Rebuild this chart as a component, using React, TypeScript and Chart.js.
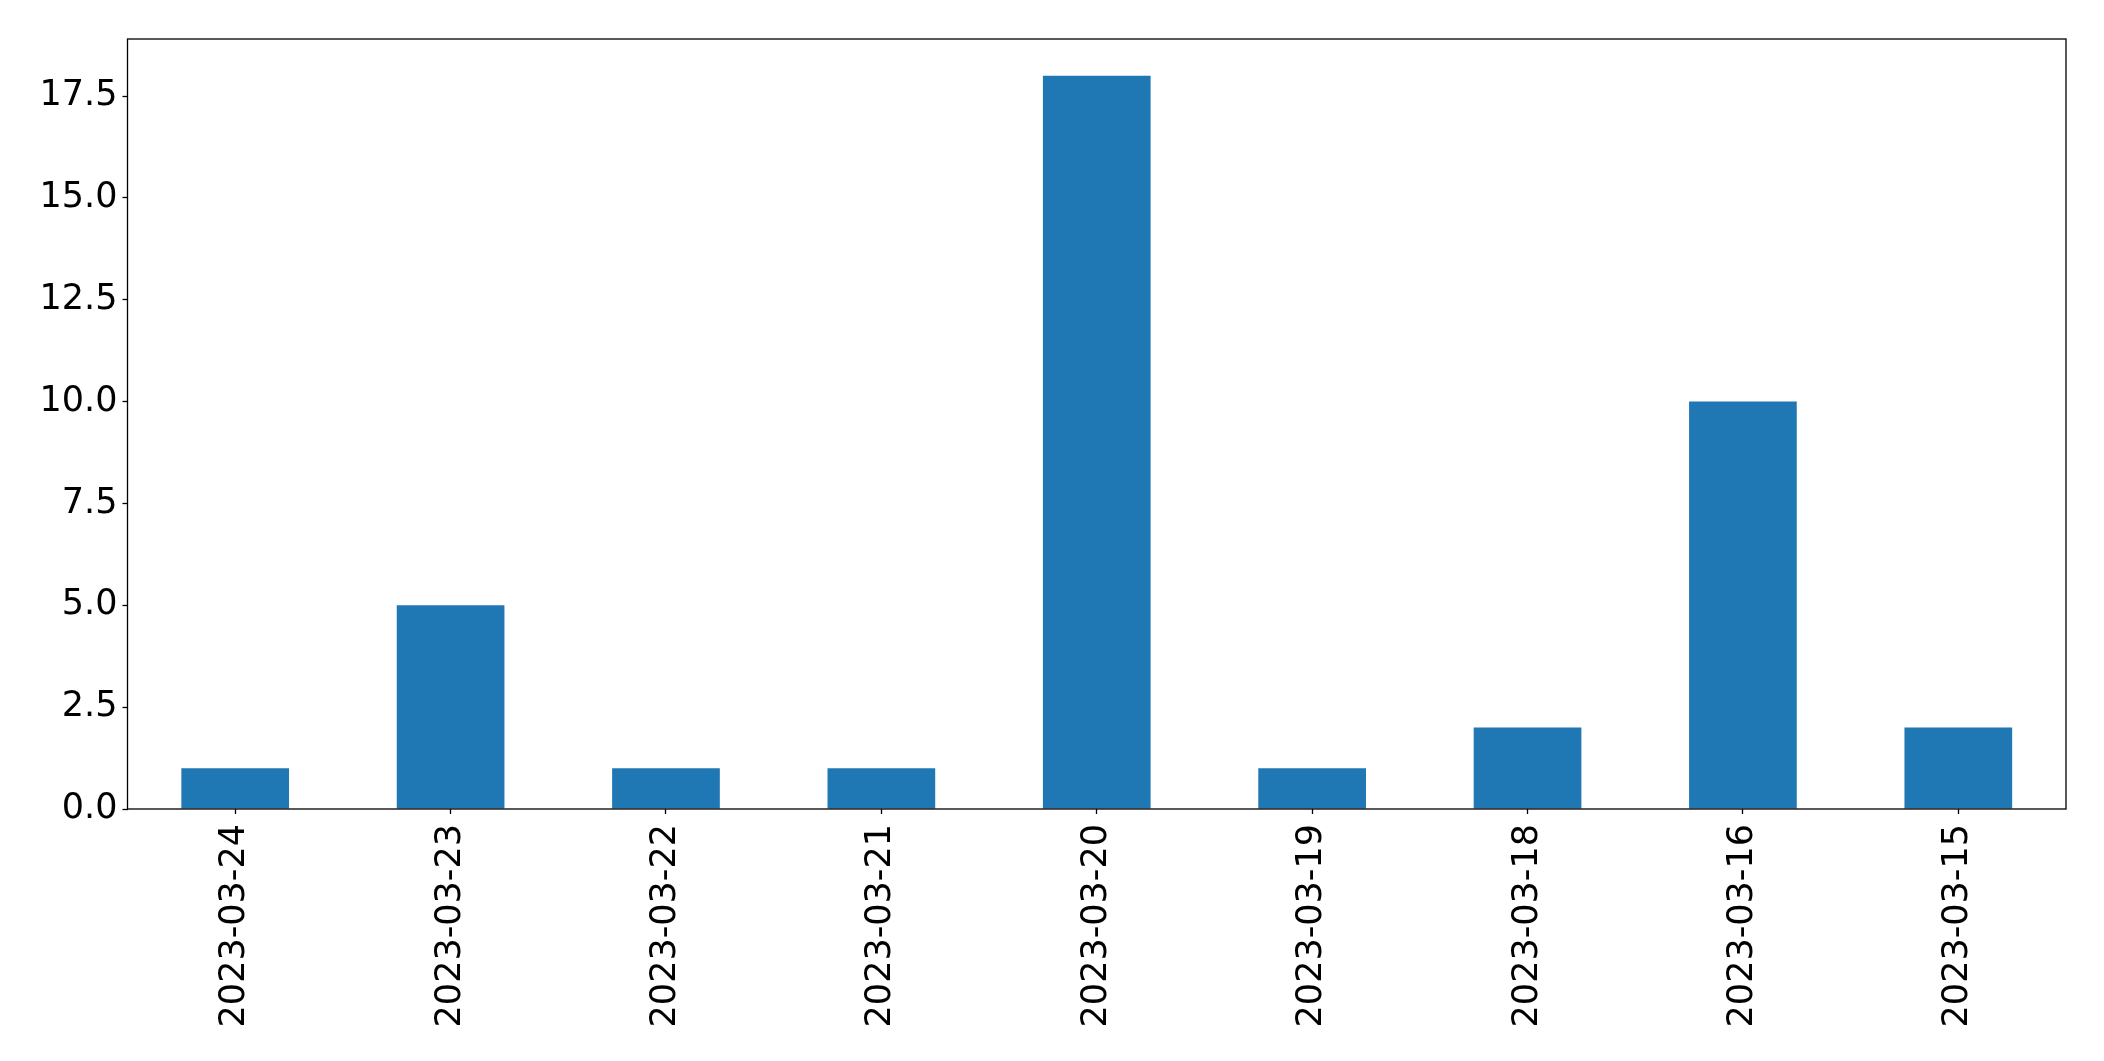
import React, { useEffect, useRef } from "react";
import { Chart, registerables } from "chart.js";

Chart.register(...registerables);

const categories = [
  "2023-03-24",
  "2023-03-23",
  "2023-03-22",
  "2023-03-21",
  "2023-03-20",
  "2023-03-19",
  "2023-03-18",
  "2023-03-16",
  "2023-03-15",
];
const counts = [1, 5, 1, 1, 18, 1, 2, 10, 2];
const yTicks = [0, 2.5, 5, 7.5, 10, 12.5, 15, 17.5];
const yMax = 18.9;

const frame = {
  id: "frame",
  afterDraw(chart: any) {
    const { ctx, chartArea } = chart;
    ctx.save();
    ctx.strokeStyle = "#000";
    ctx.lineWidth = 1.3;
    ctx.strokeRect(chartArea.left, chartArea.top, chartArea.right - chartArea.left, chartArea.bottom - chartArea.top);
    ctx.restore();
  },
};

export default function App() {
  const ref = useRef<HTMLCanvasElement>(null);
  useEffect(() => {
    const font = { family: "'DejaVu Sans'", size: 35 };
    const chart = new Chart(ref.current!, {
      type: "bar",
      data: {
        labels: categories,
        datasets: [
          {
            data: counts,
            backgroundColor: "#1f77b4",
            categoryPercentage: 1,
            barPercentage: 0.5,
          },
        ],
      },
      plugins: [frame],
      options: {
        responsive: false,
        animation: false,
        layout: { padding: { top: 39, right: 38, left: 0, bottom: 0 } },
        plugins: { legend: { display: false }, tooltip: { enabled: false } },
        scales: {
          x: {
            offset: true,
            grid: { display: true, offset: false, drawOnChartArea: false, tickLength: 5, tickColor: "#000", tickWidth: 1.3 },
            border: { display: false },
            ticks: { color: "#000", font, minRotation: 90, maxRotation: 90, padding: 10, autoSkip: false },
            afterFit: (s: any) => {
              s.height = 252;
            },
          },
          y: {
            min: 0,
            max: yMax,
            grid: { display: true, drawOnChartArea: false, tickLength: 5, tickColor: "#000", tickWidth: 1.3 },
            border: { display: false },
            ticks: {
              color: "#000",
              font,
              padding: 5,
              callback: (v: any) => Number(v).toFixed(1),
            },
            afterBuildTicks: (s: any) => {
              s.ticks = yTicks.map((v) => ({ value: v }));
            },
            afterFit: (s: any) => {
              s.width = 127.5;
            },
          },
        },
      },
    });
    return () => chart.destroy();
  }, []);
  return (
    <div style={{ position: "absolute", left: 0, top: 0, width: 2104, height: 1061, background: "#fff" }}>
      <canvas ref={ref} width={2104} height={1061} style={{ display: "block" }} />
    </div>
  );
}
